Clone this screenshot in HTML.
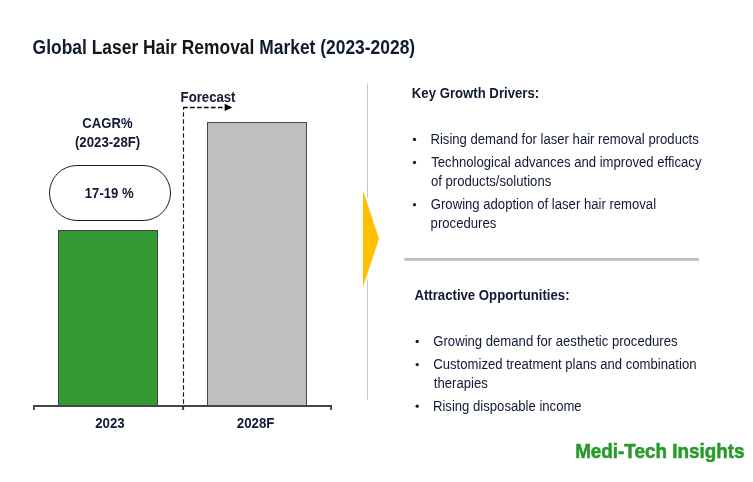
<!DOCTYPE html>
<html><head><meta charset="utf-8"><title>Global Laser Hair Removal Market (2023-2028)</title>
<style>
html,body{margin:0;padding:0;background:#fff;}
body{width:753px;height:482px;overflow:hidden;}
svg{display:block;font-family:"Liberation Sans",Arial,sans-serif;}
</style></head><body>
<svg width="753" height="482" viewBox="0 0 753 482">
<rect width="753" height="482" fill="#fff"/>

<rect x="367" y="83.5" width="1" height="316" fill="#c6c6c6"/>
<polygon points="363,190.4 379,238.7 363,287.1" fill="#ffc000" stroke="#fff" stroke-width="4" paint-order="stroke" stroke-linejoin="miter"/>
<rect x="404.5" y="258" width="294.5" height="2.8" fill="#bfbfbf"/>
<rect x="58.5" y="230.5" width="99" height="175" fill="#339933" stroke="#404040" stroke-width="1"/>
<rect x="207.5" y="122.5" width="99" height="283" fill="#bfbfbf" stroke="#474747" stroke-width="1"/>
<line x1="33" y1="406" x2="332" y2="406" stroke="#444" stroke-width="2"/>
<line x1="33.9" y1="405" x2="33.9" y2="410" stroke="#404040" stroke-width="1.8"/>
<line x1="183.1" y1="405" x2="183.1" y2="410" stroke="#404040" stroke-width="2"/>
<line x1="331.1" y1="405" x2="331.1" y2="410" stroke="#404040" stroke-width="1.8"/>
<line x1="183.5" y1="107.5" x2="183.5" y2="405" stroke="#111a35" stroke-width="1.15" stroke-dasharray="4.4 2.6" stroke-dashoffset="2.2"/>
<line x1="183.2" y1="107.5" x2="224.7" y2="107.5" stroke="#000" stroke-width="1.4" stroke-dasharray="4.6 2.4" stroke-dashoffset="0.2"/>
<polygon points="224.7,103.8 232.4,107.5 224.7,110.9" fill="#000"/>
<rect x="49.5" y="165.5" width="121" height="55" rx="27.5" ry="27.5" fill="#fff" stroke="#111a35" stroke-width="1"/>

<text transform="translate(32.62,53.6) scale(0.8505,1)" font-size="20.5" font-weight="bold" fill="#111a35">Global <tspan fill="#161616">Laser Hair Removal</tspan> Market (2023-2028)</text>
<text transform="translate(180.62,101.60) scale(0.8783,1)" font-size="15" font-weight="bold" fill="#111a35">Forecast</text>
<text transform="translate(82.28,128.00) scale(0.8745,1.03)" font-size="15" font-weight="bold" fill="#111a35">CAGR%</text>
<text transform="translate(74.98,147.40) scale(0.8801,1.03)" font-size="15" font-weight="bold" fill="#111a35">(2023-28F)</text>
<text transform="translate(84.81,198.30) scale(0.8764,1.03)" font-size="15" font-weight="bold" fill="#111a35">17-19 %</text>
<text transform="translate(95.16,427.50) scale(0.8839,1.03)" font-size="15" font-weight="bold" fill="#111a35">2023</text>
<text transform="translate(236.76,427.50) scale(0.8848,1.03)" font-size="15" font-weight="bold" fill="#111a35">2028F</text>
<text transform="translate(411.82,97.60) scale(0.8783,1)" font-size="15" font-weight="bold" fill="#111a35">Key Growth Drivers:</text>
<text transform="translate(414.45,299.60) scale(0.8783,1)" font-size="15" font-weight="bold" fill="#111a35">Attractive Opportunities:</text>
<text transform="translate(430.45,143.60) scale(0.8755,1)" font-size="15" font-weight="normal" fill="#111a35">Rising demand for laser hair removal products</text>
<text transform="translate(431.24,166.70) scale(0.8755,1)" font-size="15" font-weight="normal" fill="#111a35">Technological advances and improved efficacy</text>
<text transform="translate(430.97,186.30) scale(0.8755,1)" font-size="15" font-weight="normal" fill="#111a35">of products/solutions</text>
<text transform="translate(430.80,208.90) scale(0.8755,1)" font-size="15" font-weight="normal" fill="#111a35">Growing adoption of laser hair removal</text>
<text transform="translate(430.62,227.60) scale(0.8755,1)" font-size="15" font-weight="normal" fill="#111a35">procedures</text>
<text transform="translate(433.30,346.00) scale(0.8755,1)" font-size="15" font-weight="normal" fill="#111a35">Growing demand for aesthetic procedures</text>
<text transform="translate(433.30,369.10) scale(0.8755,1)" font-size="15" font-weight="normal" fill="#111a35">Customized treatment plans and combination</text>
<text transform="translate(433.82,387.80) scale(0.8755,1)" font-size="15" font-weight="normal" fill="#111a35">therapies</text>
<text transform="translate(432.95,410.70) scale(0.8755,1)" font-size="15" font-weight="normal" fill="#111a35">Rising disposable income</text>
<circle cx="414.5" cy="139.4" r="1.65" fill="#141a30"/>
<circle cx="414.5" cy="162.5" r="1.65" fill="#141a30"/>
<circle cx="414.5" cy="204.7" r="1.65" fill="#141a30"/>
<circle cx="417.2" cy="341.5" r="1.65" fill="#141a30"/>
<circle cx="417.2" cy="364.6" r="1.65" fill="#141a30"/>
<circle cx="417.2" cy="406.2" r="1.65" fill="#141a30"/>
<text transform="translate(575.17,458.30) scale(0.9430,1)" font-size="20" font-weight="bold" fill="#279a2b" stroke="#279a2b" stroke-width="0.55">Medi-Tech Insights</text>

</svg>
</body></html>
